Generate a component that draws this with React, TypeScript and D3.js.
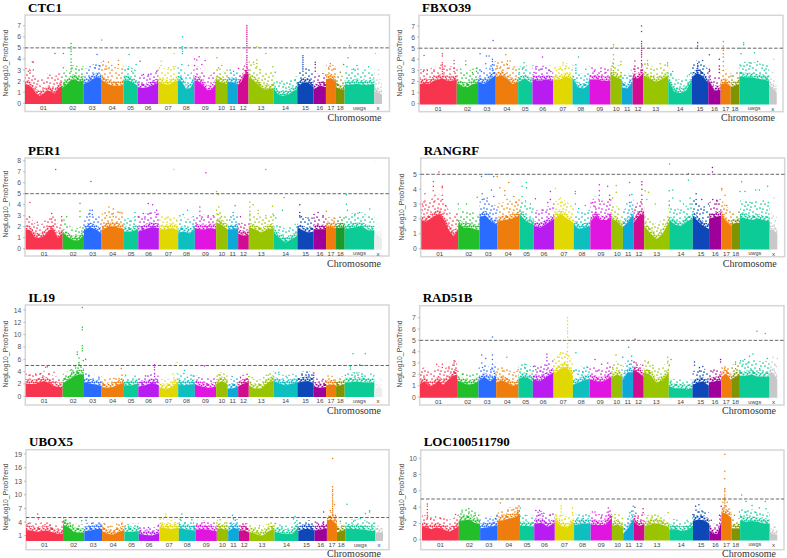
import React from "react";
import * as d3 from "d3";

const chromosomes = ["01","02","03","04","05","06","07","08","09","10","11","12","13","14","15","16","17","18","uwgs","x"];
const chromosomeLengths = [111,64,53,67,43,62,58,50,64,34,32,32,75,71,49,37,30,26,89,23];
const chromosomeColors = ["#f8344f","#24bf2c","#2a6cff","#ee7d0a","#0acb96","#b81cf0","#e0d800","#0abfbf","#e018e0","#98c000","#0aa8d8","#d00a90","#98c400","#0acb96","#0a46b8","#a0009a","#f07c0a","#7f9400","#0acb96","#c8c8c8"];

// Solid part of each chromosome column, read left to right
const ctc1Band = [[1.9,1.9,1.6,1.1,.9,1.1,1.4,1.3,1.1,1.6,1.8],[1.6,1.9,2.3,2.4,2.2,2.3],[2,2.1,2.4,2.6,2.5],[2.4,2.1,1.9,1.8,1.8,1.9],[2.3,2.3,2.1,1.8],[1.7,1.6,1.7,1.9,2.1],[2.2,2,1.9,2.1,2.3],[2.3,2.2,1.5,1.6,2.3],[2.3,2.2,1.9,1.4,1.5,2],[2.4,2.1,2],[2.2,2.1,2],[1.9,2.2,2.9,2.9],[2.6,2.3,1.9,1.5,1.5,1.6],[1.6,1,.9,1,1.3,1.5],[1.7,2.1,2.1,1.7],[1.5,1.8,1.7],[2.4,2.5,2.2],[1.7,1.5,1.5],[1.9,1.9,2,1.9,1.9,2],[1.3,1.2,1]];
const fbxo39Band = [[2,2.1,2,2.3,2.4,2.5,2.3,2.3,2.4],[2.1,1.8,1.7,2,2.1],[2.2,2,2.4,2.8],[2.6,2.8,2.5,2,2.2],[2.2,2.5,2],[2.4,2.3,2.4,2.3],[2.4,2.4,2.7,2.4],[2.5,1.7,1.6,2],[2.4,2.4,2.3,2.3],[2.9,2.6,2.4],[1.7,1.6,2.2],[2.6,2.5,3],[2.8,2.5,2.2,2.4,2.8],[2.4,1.3,1.2,1.4,2.4],[2.6,3,2.7,2.1],[2.4,1.4,1.5],[2,2.1,1.8],[1.7,2],[2.7,2.6,2.6,2.5,2.4,2.3],[2,1.6,1.2]];
const per1Band = [[2,1.9,1.3,1.2,1.4,1.9,2,1.2,1.7],[1.7,1.3,1,1,1.5],[1.9,2.2,2,1.6],[1.9,2.3,2.2,2],[1.8,1.8,2],[1.8,2,2.2,2.1],[2,2,2.1,1.9],[1.7,1.8,1.6,2],[2.1,2,2,2.1,2],[2.6,2.4,2],[2,2,2.1],[1.6,1.4,1.5],[2.2,2,1.7,2,2.1],[1.7,1.2,.8,1.1,1.4],[2.1,1.9,1.7,1.8],[2,2,2],[2.2,2.2,2.1],[2.1,2.2],[2,2.1,2.2,2.2,1.9,1.9],[1.3,1.5,1.2]];
const rangrfBand = [[2.1,2,2.2,2.4,2.5,2.1,1.4,1,1.5],[1.9,1.6,1.6,1.5,1.4],[2.3,2.4,2,1.8],[2,2.1,2.2,2.4],[2.5,2,1.8],[1.7,1.6,1.9,2.2],[2.2,2.5,2.2,1.9],[1.8,1.5,1.6,1.7],[2,2.4,2.1,2.1,2.3],[2.2,2,1.6],[1.6,2,2.5],[1.9,2.4,2.5],[1.7,1.2,.8,1.2,2],[2.1,1.8,1.7,2,2.2],[2.4,2,1.7,1.5],[2.2,2.3,2.4],[2.5,2,1.7],[1.8,1.9,1.9],[2.3,2.2,2.1,2.2,2.1,2],[1.5,1.4,1.2]];
const il19Band = [[2.5,2.4,2.4,2.7,2.9,2.6,2.1,1.9,1.9],[2.5,3,3.6,4,4],[2.7,2.4,2.1],[1.9,1.8,1.9,2.3,2.6],[2.2,2.2,2.5],[2,2.2,2.6,2.2],[1.9,1.5,1.9,2.8],[2.4,2.2,2.3,2.4],[2.3,2,1.8,2],[2.4,2.9,2.4],[1.6,1.7,2],[2,2.5,2.7],[2.2,1.6,1.7,2.6,3],[2.9,2.5,2.2,2.5,2.6],[2.6,2.8,2.9,2.5],[2,1.8,1.9],[2.2,2.3,2.2],[2,2.4],[2.7,2.7,2.8,2.7,2.6,2.6],[1.5,2,1.6]];
const rad51bBand = [[1.4,1.6,1.2,1.3,1.7,1.3,1.7,2.1,2.2],[1.7,1.5,1.3,1.4,1.6],[1.6,2,1.6,2.1],[1.5,1.7,1.5,1.2,1.4],[1.8,2,1.9,1.6],[1.8,1.6,2,2.4],[2.2,2.7,2.9,2.1],[1.3,1.5,1.7,1.8],[1.8,1.6,1.6,2],[1.9,2.2,2],[1.7,2.4,2.4],[2.6,2.4,2],[2.4,2.2,1.5,1.7,2.4],[1.2,1,1,.9,1],[1.3,1.5,1.6,1.2],[1.5,1.6,1.7],[2,2.3,1.7],[1.8,2.2],[2.1,2.1,2.2,2,2,2],[2.4,2.3,1.8]];
const ubox5Band = [[2.8,2.7,2.4,2.6,2.7,2.3,2,2],[4,3.4,2.4,2.2,2.2],[2.5,2.7,3,3],[2.6,2,1.8,2.4,2.8],[2.4,2.4,2.6],[2,1.7,1.6,2.2],[3.5,3.2,3,3.4],[3.2,3,2.8,2.7],[2.9,3,2.8,2.5],[3.2,3,2.9],[2.5,3.3,3],[2.6,2.8,2.2],[2.4,1.9,1.5,2.5,3],[2.4,2.1,1.9,2,3.4],[2.6,3,3,2.7],[2.7,2.9,3.2],[5,5,4],[2.3,2.9],[3.2,3,3,2.9,2.7,2.6],[2.2,2.3,2.2]];
const locBand = [[2,1.8,1.6,1.8,1.7,1.5,1.3,1.6,2],[2.6,2.7,2.8,2.4,2.2],[1.7,1.8,1.9,2.1],[2.6,2.7,2.9,3,3.5],[2,2,1.9],[2.2,2.4,1.9,2.4],[2.7,2,1.8,2.5],[2.1,2.2,2.3,2.2],[2.2,2.1,2.1,3],[2,2.2,1.7],[1,1.8,3],[2.5,2,2.2],[2,2.2,2.3,2.1,1.8],[1.6,1.6,1.4,1.5,2],[2.6,2.8,2.7,2.3],[1.5,1,1,2.6],[3.7,3.5,3],[1.7,1.7],[2.7,2.5,2.6,2.5,2.3,2.2],[1.2,1,.9]];

// Height of the sparse, speckled zone above the solid part, per chromosome
const ctc1Fringe = [1.1,.9,.9,1.2,.9,.8,1,.9,.9,.8,.8,.5,1.1,.8,.9,.8,.9,.8,1,.9];
const fbxo39Fringe = [.9,1,.9,1,.9,.9,.8,.9,.8,.8,.8,.6,.8,.8,.8,.8,.8,.8,1,.7];
const per1Fringe = [.8,.7,1,1.1,.8,1,.8,.9,.9,.7,.9,.7,1,.8,.9,.8,.5,.6,.9,.8];
const rangrfFringe = [1,.8,.9,.9,.9,.8,.8,.8,1,.7,.8,.7,.7,.8,.9,.8,.7,.5,.9,.8];
const il19Fringe = [.9,.8,.8,.8,.7,.8,.8,.9,.8,.7,.8,.7,.8,.8,.9,.7,.7,.6,.8,.8];
const rad51bFringe = [.9,.5,.8,.8,.8,.9,1,.9,.8,.8,.7,.5,.8,.4,.8,.7,.5,.8,1,.9];
const ubox5Fringe = [.9,.9,.8,.9,.8,.7,1,1,.9,.9,1.1,.8,.9,.9,1,.9,.8,.7,1.1,.7];
const locFringe = [.9,.8,.7,.8,.8,.9,.8,.7,.8,.8,.8,.8,.7,.7,.8,.7,.8,.7,.9,.5];

// Isolated points: [position along the genome axis, value, value, ...]
const ctc1Dots = [[15,2.95],[25,3],[10,2.9],[22,3.75],[25,3.7],[90,4.5],[115,4.5,3.2],[138,5.4,5.1,4.9,4.7,4.4,4,3.7,3.4,3.1,2.9],[230,5.7],[216,4.4],[195,3.3],[210,3.2],[222,3.4],[235,3.8],[250,3.7],[260,3.4],[280,3.85,3.5],[270,3.2],[245,3.1],[312,4.4],[333,3.5],[345,3.8],[310,3.1],[320,2.9],[395,2.9],[370,2.6],[355,2.6],[408,3.8,3.4],[403,3.2],[430,5,3.2],[447,4.5],[445,3.3],[472,6,5.1,4.9,4.7,4.5],[470,3.5],[490,3.4],[508,4,3.4],[522,4.2],[515,3.9],[540,3.85],[530,3.5],[575,4.1],[590,5,3.4],[580,3.2],[615,3],[625,2.9],[640,3.15],[665,7,6.8,6.6,6.4,6.2,6,5.8,5.6,5.4,5.2,5,4.8,4.6,4.3,4.1,3.9,3.7,3.5,3.3],[695,5.1,3.9,3.6,3.3],[685,3.7],[722,4.5],[743,3.3],[705,3],[750,2.8],[770,2],[810,2.1],[833,4.3,4.1,3.9,3.7,3.5,3.3,3.1,2.9],[870,3.7,3.5,3.2,2.9],[915,3.6],[910,3.2],[925,3.1],[945,2.8],[955,3.5],[973,5.2],[968,4.1],[965,3.3],[995,3.4],[1030,3.3],[985,3.1],[1050,4.5],[1060,3,2.6]];
const fbxo39Dots = [[13,4.35],[23,3],[11,2.9],[68,4.5,4.3,3.7,3.5,3.3,3.1,2.9,2.7],[103,3.9,3.6,3.2,2.9],[43,2.9],[138,3.85,3.5],[123,3.1],[170,3.2,2.9],[158,2.8],[181,4.5],[200,4.3],[208,4.3],[218,4,3.8,3.5,3.2,3],[220,5.7],[198,3.6],[185,2.9],[258,4.4],[263,3.85,3.5,3.2],[271,3.85],[243,3.3],[283,3.3],[233,3.2],[313,3.7,3.3],[308,3.1],[298,2.8],[368,4.2],[348,3.3],[363,3.1],[388,3],[393,2.9],[343,2.8],[430,3.7],[423,3.2],[410,3],[438,3.2],[476,4.2],[468,3.5,3.2,3],[498,3.1],[523,2.9],[543,2.9],[558,2.8],[533,2.6],[581,5.3,5.1,4.4,4,3.6,3.3,3,2.8],[603,3.8,3.5,2.8],[628,2.5],[645,3.85,3.4,3.1,2.9],[665,7,6.5,5.6,5.4,5.2,5,4.8,4.6,4.4,4.2,3.9,3.6,3.3,3,2.8],[683,3.9,3.6],[721,3.6],[743,3.7,3.4],[758,2.9],[808,2.6],[753,2.7],[833,5.5,5.2,5,3.6,3.4,3.2,3,2.8,2.6],[848,3.9],[868,4.4,3.1,2.9],[898,4,3.4,3.1,2.8],[910,5.6,5.2,5,4.8,4.5,4.2,3.8,3.4,3],[933,2.5],[963,5,4.5,3.4],[971,5.5,5.3],[1003,4.6],[988,3.7],[1013,3.8],[1033,3],[1061,4],[1058,2.8]];
const per1Dots = [[90,7.2],[13,4.2],[11,2.9],[35,2.4],[58,2.5],[78,3.2,2.7],[88,2.6],[108,2.9,2.6],[123,2.9],[163,4.1,3.4,2.9],[115,2.6],[196,6.1],[193,3.5,3.2,2.9],[200,3.5,3.1],[250,3.8],[263,3.6,3.2,2.9],[283,3.3],[243,3],[328,3.3,2.9],[313,2.5],[368,4.1],[381,4],[353,3.2],[393,3.5,3.1],[338,2.9],[373,3.2],[358,2.7],[445,7.2],[403,2.6],[423,2.8],[433,2.7],[453,2.6],[463,3],[486,3.5],[503,2.9],[473,3.1],[541,6.9],[523,3.8,3.4,3],[528,2.7],[548,3],[563,3],[573,5.2],[578,4.9],[580,3.8],[573,3.5],[578,3.1],[588,2.9],[629,3.9],[623,3.3,3],[613,2.6],[645,2.9],[673,4.25,3.8,3.4,3,2.7],[683,4],[698,3.5,3.2],[721,7.2,3],[741,3.85],[745,3],[776,4.65],[771,3.5],[751,2.8],[823,4,3.3,3],[828,2.9],[848,2.8],[866,3.1,2.8],[878,3.3],[893,3],[903,3.4],[926,2.8,2.5],[963,4.9,4.05],[966,3.5],[956,2.8],[1003,3.3],[1033,3.6],[988,3],[1048,7.9],[1058,2.7]];
const rangrfDots = [[53,5.15],[36,4.5,4.2,3.9],[63,4.2,4.1,3.6,3.3],[11,3.7,3.2],[3,3],[41,3.6,3.2],[73,2.9],[111,3],[136,3],[168,3.45],[183,3.7,3.3],[203,5],[181,4.85],[218,4.85],[228,4.85],[211,3.95],[198,3.4],[218,3.5],[263,4.45],[236,4.1],[251,3.9,3.6],[278,3.5],[285,3.1],[258,3.3],[303,4.2],[316,4.45,4.1],[303,3.5],[313,3.2],[328,3],[343,3.35],[388,3.85,3.3],[380,3.1],[363,2.6],[378,2.6],[403,4.05],[418,3.4,3.1],[433,3],[463,3.85,3.7,3],[493,2.9],[473,2.7],[535,4.3,3.9,3.6,3.2],[515,3.1],[560,4.2],[566,3.6,3.3],[523,2.8],[586,4.25,3.8],[575,3.4],[626,4.45],[633,3.65],[626,3.6,3.1],[618,3],[663,4.5,4.3,4,3.6,3.3,3],[673,3.9],[683,3.8],[703,3],[678,3.3],[745,3.9,3.2,2.9],[756,3.95,3.4],[778,3.2],[808,3.4,3],[788,3],[803,5.05,4.6],[746,5.7],[826,3.7,3.3,3],[843,3.3],[863,3],[850,2.8],[875,5.45,5.15],[876,3.3],[888,3.25,3],[903,4.05,3.95],[913,3.6],[918,2.9],[963,4.5],[958,3.85],[973,3.85],[1005,3.95],[1016,3.95],[1041,4.2],[1028,3.2],[1043,3.1],[988,3.1],[1060,3.4],[1058,2.2]];
const il19Dots = [[60,4.7],[65,4.8],[45,3.7],[85,3.9],[10,3.4],[30,3.6],[70,3.6],[138,4.3,3.8],[170,14.4,11.2,10.8,8.2,7.8,7.4],[155,7.2,6.8],[180,6],[173,5.8],[160,6.2,5.5,5.2,5],[165,5],[150,5,4.6],[190,3.4],[220,3.1],[287,4.5],[265,2.9],[280,2.9],[300,3.4],[387,5.1,4.7,4.3,3.7,3.2],[360,3.3],[395,2.7],[455,5.5,3.7],[442,3.6],[445,3],[477,4.2],[475,3.7],[503,3.3],[485,3.1],[537,4.9],[520,3],[580,3.5],[597,3],[620,3.2],[645,3],[670,3.2],[680,3],[728,3.4],[715,3],[750,3.8],[760,3.9],[785,3],[830,3.4],[865,3.8,3.4,3],[850,3.5],[835,3],[860,2.9],[890,2.5],[908,3.3],[925,2.6],[983,6.9],[1020,6.9],[975,4.8,4.4],[1003,5.1],[1013,5],[987,3.8],[995,3.8],[1045,3.3],[1010,3.2],[960,3.4],[1065,2.9]];
const rad51bDots = [[50,2.9],[67,2.9,2.6],[102,3.2,3,2.8],[105,2.4],[87,2.5],[127,2],[185,3.7,3],[197,3.4],[217,5.3,3.7,3.3,2.9,2.5],[187,2.6],[212,2.4],[260,3.5],[294,2.4],[247,2.3],[314,2.9,2.6],[340,2.7],[322,2.3],[380,3.8,3.5,3.2,2.8,2.4],[347,2.4],[362,2.3],[442,7,6.7,6.4,6.1,5.8,5.6,5.3,5,4.7,4.4,4,3.7,3.4,3.1,2.8],[422,5,3.9],[402,3.3],[412,3.5],[432,3],[467,3.9],[462,2.3],[502,2.6],[487,2.2],[524,3.3],[544,2.9],[562,3],[532,2.3],[587,3.7],[607,3.5],[577,2.6],[602,2.8],[625,4.4],[634,3.6,3.2],[627,2.9],[644,5.1],[647,3],[667,2.8],[684,3.1],[697,2.8],[742,3.5,3],[752,3.3],[747,2.8],[822,3.1,2.8],[837,2.6,2.3],[847,2.7],[877,2.2],[900,3.3,3.1],[912,2.5],[945,3.1,2.9,2.5],[960,3.2],[1009,5.8],[1034,5.6],[997,3.8],[987,3.6],[972,3.3],[967,2.9],[1040,3.4],[1017,2.5],[982,3],[1057,3.5],[1070,3.4],[1062,2.9],[1067,2.7]];
const ubox5Dots = [[35,5.8],[37,4.7],[7,3.7],[57,3.4],[72,3.3],[109,4],[117,4.4],[167,4.3],[182,5],[180,4.4],[197,3.7],[222,3.5],[234,3.7],[272,3.5],[287,3.5],[252,3],[307,3],[334,3],[367,2.8],[397,3.3],[419,5.8,5.3],[402,4.6],[412,4.7],[432,3.6],[447,3.9],[467,5.8],[462,4.6],[497,4.5],[502,3.8],[477,3.8],[534,3.9],[522,3.3],[572,3.8],[582,4.5],[602,3.8],[619,5.5],[627,4.4],[622,4.7],[612,3.7],[659,3.6],[652,3],[700,3.2],[727,3.5],[747,3.7],[807,5.2],[802,4.7],[812,4.3],[807,3.9],[767,3],[847,3.5],[867,4],[877,3.5],[892,6.2,5,4,3.4],[919,18,11.8,11.2,10.8,10.2,9.8,9.3,8.8,8.4,8,7.5,7,6.6,6.2,5.8,5.5],[925,7.8],[912,6.5,5.2],[927,5.5],[962,7.9],[942,4.2],[1030,6.5,6.2],[1017,5.9],[1002,4.8],[982,4.2],[1022,4],[1042,3.7]];
const locDots = [[16,4.4,4.1,3.7,3.3,3,2.7],[41,2.8],[56,2.6],[101,3.1],[26,2.5],[121,3.4],[141,3.8,3.2],[161,3],[171,3],[199,2.3],[226,3],[221,2.6],[236,4.5],[259,3.5],[276,3.7],[288,3.9,3.6,3.2],[241,3],[294,5],[296,3.9],[311,3],[343,3.6],[354,3.6],[351,3],[386,3],[361,3.2],[419,4.1,3.8,3.4,3],[453,3.9,3.3],[431,2.5],[406,2.9],[486,2.6],[466,2.5],[513,3.4],[521,3.4],[561,3.9,3.4,3],[541,2.8],[581,3.1],[603,2.6],[636,4.1],[626,3.3],[631,3.5],[641,4],[666,3.8,3.3],[651,2.9],[693,2.7],[741,3.3],[706,2.5],[834,4.3],[824,4.1],[816,3.1],[846,3.4],[831,3.4],[801,2.2],[871,2.4],[896,3],[912,10.5,8.4,7.5,6.3,6.1,5.9,5.5,5.2,5,4.8,4.5,4.2,4],[906,5],[919,4.6],[901,4.1],[941,3],[963,5.5],[976,4.7],[956,3.4],[994,4.2],[1016,3.9],[1034,4.7],[1036,3.8],[976,3.4],[1006,3.3],[1061,1.5]];

const yLabel = "NegLog10_ProbTrend";
const threshold = 5;

type P = {
  title: string; band: number[][]; fringe: number[]; dots: number[][];
  ticks: number[]; tv: number; ty: number; y0: number;
  fl: number; fr: number; ft: number; fb: number; pl: number; pr: number;
  tb: number; cy: number; lx: number; ylc: number; over?: Record<number, string>;
};

const panels: P[] = [
  { title: "CTC1", band: ctc1Band, fringe: ctc1Fringe, dots: ctc1Dots, ticks: [0,1,2,3,4,5,6,7], tv: 7, ty: 25.7, y0: 103.3, fl: 25, fr: 389.5, ft: 15, fb: 111.5, pl: 25, pr: 382, tb: 11.5, cy: 117, lx: 5.5, ylc: 63 },
  { title: "FBXO39", band: fbxo39Band, fringe: fbxo39Fringe, dots: fbxo39Dots, ticks: [0,1,2,3,4,5,6,7], tv: 7, ty: 26, y0: 103.7, fl: 419, fr: 783, ft: 15.3, fb: 111.7, pl: 419.7, pr: 776.7, tb: 11.5, cy: 117, lx: 399.5, ylc: 63 },
  { title: "PER1", band: per1Band, fringe: per1Fringe, dots: per1Dots, ticks: [0,1,2,3,4,5,6,7,8], tv: 8, ty: 160.7, y0: 248.7, fl: 25, fr: 389, ft: 158, fb: 256, pl: 25.7, pr: 382, tb: 154.5, cy: 263, lx: 5.5, ylc: 204, over: { 17: "#1a9a2a", 19: "#ececec" } },
  { title: "RANGRF", band: rangrfBand, fringe: rangrfFringe, dots: rangrfDots, ticks: [0,1,2,3,4,5], tv: 5, ty: 174.3, y0: 248.7, fl: 420.7, fr: 784.7, ft: 158, fb: 256.7, pl: 421.3, pr: 777.3, tb: 154.5, cy: 263, lx: 401.5, ylc: 207 },
  { title: "IL19", band: il19Band, fringe: il19Fringe, dots: il19Dots, ticks: [0,2,4,6,8,10,12,14], tv: 14, ty: 310, y0: 396.3, fl: 25.3, fr: 389, ft: 305, fb: 405, pl: 25.7, pr: 382, tb: 302.3, cy: 410, lx: 5.5, ylc: 354, over: { 13: "#0abfbf", 19: "#ececec" } },
  { title: "RAD51B", band: rad51bBand, fringe: rad51bFringe, dots: rad51bDots, ticks: [0,1,2,3,4,5,6,7], tv: 7, ty: 317.7, y0: 397, fl: 419.7, fr: 784, ft: 305.7, fb: 405, pl: 420, pr: 777.3, tb: 302.3, cy: 410, lx: 399.5, ylc: 354 },
  { title: "UBOX5", band: ubox5Band, fringe: ubox5Fringe, dots: ubox5Dots, ticks: [1,4,7,10,13,16,19], tv: 19, ty: 454, y0: 540.2, fl: 26, fr: 389, ft: 449.7, fb: 549.7, pl: 26, pr: 383, tb: 446, cy: 553, lx: 5.5, ylc: 497 },
  { title: "LOC100511790", band: locBand, fringe: locFringe, dots: locDots, ticks: [0,2,4,6,8,10], tv: 10, ty: 458.3, y0: 539.7, fl: 420.7, fr: 784, ft: 450, fb: 549.7, pl: 422, pr: 777.3, tb: 445.7, cy: 553, lx: 401.5, ylc: 497 },
];

// Hand-placed grains of the two texture masks (style only, no data)
const sparseGrain = [[1,1],[4,3],[7,1],[10,4],[13,2],[16,5],[2,6],[6,6],[9,8],[12,7],[15,9],[1,10],[4,11],[8,12],[11,11],[14,12],[18,1],[20,4],[19,8],[21,11],[3,14],[7,15],[10,16],[13,15],[17,14],[20,16]];
const denseGrain = [[0.5,1],[2.5,2.5],[4.5,0.5],[6.5,2],[8.5,0.8],[10.5,2.8],[12.2,1],[1,4.5],[3.5,5],[5.5,4],[7.5,5.2],[9.5,4.4],[11.5,5.4],[0,7],[2.2,8],[4.3,7.2],[6.4,8.3],[8.6,7.3],[10.8,8.2],[12.6,7],[1.2,10],[3.4,10.6],[5.6,10],[7.8,10.8],[10,10.2],[12,10.9]];

const starts = d3.cumsum(chromosomeLengths);
const totalLength = starts[starts.length - 1];

function Panel({ p }: { p: P }) {
  const x = d3.scaleLinear().domain([0, totalLength]).range([p.pl, p.pr]);
  const y = d3.scaleLinear().domain([0, p.tv]).range([p.y0, p.ty]);
  const colorOf = (c: number) => p.over?.[c] ?? chromosomeColors[c];
  const chromOf = (pos: number) => Math.min(d3.bisectRight(Array.from(starts), pos), chromosomes.length - 1);
  const spans = chromosomes.map((_, c) => {
    const a = c === 0 ? 0 : starts[c - 1];
    const b = starts[c];
    const pos = d3.scalePoint<number>().domain(d3.range(p.band[c].length)).range([a, b]);
    return { a, b, rows: p.band[c].map((v, k) => ({ pos: pos(k) as number, v })) };
  });
  type R = { pos: number; v: number };
  const solid = d3.area<R>().x(d => x(d.pos)).y0(p.y0 + 0.8).y1(d => Math.min(y(d.v) + 2.5, p.y0));
  const dense = d3.area<R>().x(d => x(d.pos)).y0(d => Math.min(y(d.v) + 2.5, p.y0)).y1(d => y(d.v) - 2);
  const sparse = (c: number) => d3.area<R>().x(d => x(d.pos)).y0(d => y(d.v) - 2).y1(d => y(d.v + p.fringe[c]) - 2);
  return (
    <g>
      <text x={p.fl + 3} y={p.tb} fontFamily="Liberation Serif" fontWeight="bold" fontSize={13} fill="#000">{p.title}</text>
      <rect x={p.fl} y={p.ft} width={p.fr - p.fl} height={p.fb - p.ft} fill="#fff" stroke="#d6d6d6" strokeWidth={1.5} />
      <text transform={`translate(${p.lx},${p.ylc}) rotate(-90)`} textAnchor="middle" dominantBaseline="central" fontFamily="Liberation Sans" fontSize={6.8} fill="#444">{yLabel}</text>
      {p.ticks.map(t => (
        <g key={t}>
          <line x1={p.fl - 2} x2={p.fl} y1={y(t)} y2={y(t)} stroke="#999" strokeWidth={0.6} />
          <text x={p.fl - 4} y={y(t)} textAnchor="end" dominantBaseline="central" fontFamily="Liberation Sans" fontSize={6.8} fill="#555">{t}</text>
        </g>
      ))}
      <g filter="url(#soft)">
        <g mask="url(#sparseMask)">
          {spans.map((s, c) => <path key={c} d={sparse(c)(s.rows) ?? ""} fill={colorOf(c)} />)}
        </g>
        <g mask="url(#denseMask)">
          {spans.map((s, c) => <path key={c} d={dense(s.rows) ?? ""} fill={colorOf(c)} />)}
        </g>
        {spans.map((s, c) => <path key={c} d={solid(s.rows) ?? ""} fill={colorOf(c)} />)}
        {p.dots.flatMap((row, k) => row.slice(1).map((v, m) => (
          <circle key={`${k}-${m}`} cx={x(row[0])} cy={y(v)} r={0.75} fill={colorOf(chromOf(row[0]))} />
        )))}
      </g>
      <line x1={p.fl} x2={p.fr} y1={y(threshold)} y2={y(threshold)} stroke="#555" strokeWidth={0.9} strokeDasharray="3.5 1.8" />
      {chromosomes.map((name, c) => (
        <text key={name} x={x((spans[c].a + spans[c].b) / 2)} y={p.y0 + 4.6} textAnchor="middle" dominantBaseline="central" fontFamily="Liberation Sans" fontSize={name === "uwgs" ? 5.5 : 6.2} fill="#444">{name}</text>
      ))}
      <text x={p.fr - 8} y={p.cy} textAnchor="end" dominantBaseline="central" fontFamily="Liberation Serif" fontSize={10} fill="#333">Chromosome</text>
    </g>
  );
}

export default function App() {
  return (
    <svg width={787} height={558} viewBox="0 0 787 558" style={{ position: "absolute", left: 0, top: 0, display: "block", background: "#fff" }}>
      <defs>
        <filter id="soft" x="-2%" y="-2%" width="104%" height="104%"><feGaussianBlur stdDeviation={0.3} /></filter>
        <pattern id="sparseTile" width={23} height={18} patternUnits="userSpaceOnUse">
          {sparseGrain.map((s, k) => <circle key={k} cx={s[0]} cy={s[1]} r={0.85} fill="#fff" />)}
        </pattern>
        <pattern id="denseTile" width={13} height={12} patternUnits="userSpaceOnUse">
          {denseGrain.map((s, k) => <circle key={k} cx={s[0]} cy={s[1]} r={1.05} fill="#fff" />)}
        </pattern>
        <mask id="sparseMask" maskUnits="userSpaceOnUse" x={0} y={0} width={787} height={558}>
          <rect x={0} y={0} width={787} height={558} fill="url(#sparseTile)" />
        </mask>
        <mask id="denseMask" maskUnits="userSpaceOnUse" x={0} y={0} width={787} height={558}>
          <rect x={0} y={0} width={787} height={558} fill="url(#denseTile)" />
        </mask>
      </defs>
      {panels.map(p => <Panel key={p.title} p={p} />)}
    </svg>
  );
}
